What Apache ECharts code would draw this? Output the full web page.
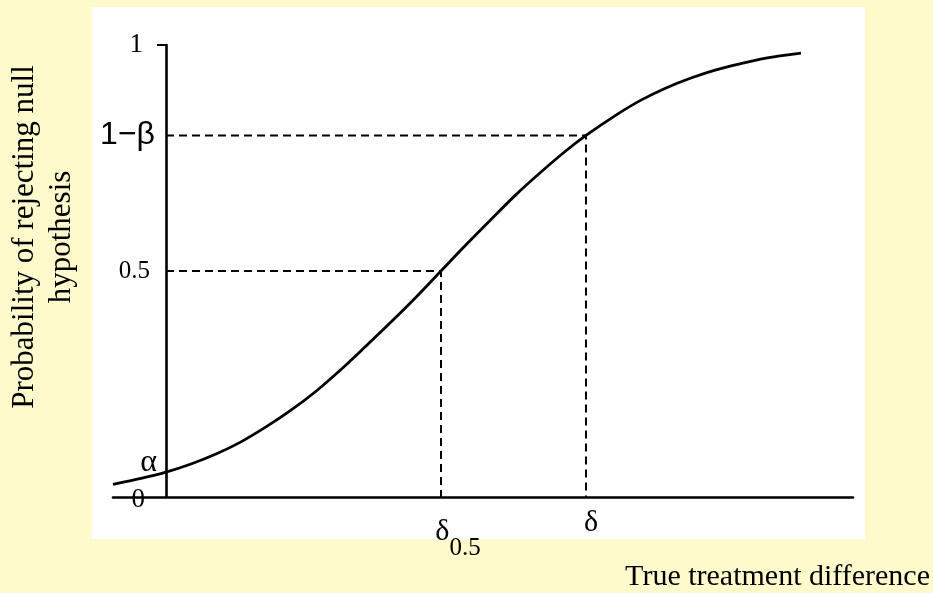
<!DOCTYPE html>
<html>
<head>
<meta charset="utf-8">
<script src="https://cdn.jsdelivr.net/npm/echarts@6/dist/echarts.min.js"></script>
<style>
html,body{margin:0;padding:0;background:#FFFACC;}
#c{width:933px;height:593px;}
</style>
</head>
<body>
<div id="c"></div>
<script>
// Power curve (x in arbitrary units of true treatment difference, y = probability)
var curveX = [-0.53, -0.25, 0, 0.25, 0.5, 0.75, 1, 1.25, 1.5, 1.75, 2, 2.25, 2.5, 2.75, 3, 3.25, 3.5, 3.75, 4, 4.2, 4.5, 4.75, 5, 5.25, 5.5, 5.75, 6, 6.35];
var curveY = [0.028, 0.041, 0.055, 0.073, 0.095, 0.122, 0.155, 0.192, 0.234, 0.282, 0.334, 0.387, 0.442, 0.5, 0.558, 0.614, 0.669, 0.719, 0.766, 0.8, 0.845, 0.878, 0.905, 0.927, 0.945, 0.959, 0.971, 0.982];
// Reference points
var deltaHalf = 2.75, deltaHalfY = 0.5;
var delta = 4.2, powerAtDelta = 0.8;
var alphaVal = 0.055;
// Tick labels
var yTickValues = [0, alphaVal, 0.5, powerAtDelta, 1];
var yTickLabels = ['0', 'α', '0.5', '1−β', '1'];
var xTickValues = [deltaHalf, delta];
var xTickLabels = ['δ0.5', 'δ'];
var xMin = -0.53, xMax = 6.87;

var curve = curveX.map(function (x, i) { return [x, curveY[i]]; });

var chart = echarts.init(document.getElementById('c'), null, {renderer: 'canvas'});
var serif = '"Liberation Serif", "Times New Roman", serif';
var sans = '"Liberation Sans", Arial, sans-serif';
var dash = {color: '#000', width: 2, type: [8, 5]};

chart.setOption({
  backgroundColor: '#FFFACC',
  animation: false,
  graphic: [
    {type: 'rect', z: -10, shape: {x: 92, y: 7, width: 773, height: 532}, style: {fill: '#ffffff'}, silent: true},
    {type: 'text', x: 43, y: 237, rotation: Math.PI / 2,
      style: {text: 'Probability of rejecting null\nhypothesis', font: '31px ' + serif, fill: '#000',
        textAlign: 'center', textVerticalAlign: 'middle', lineHeight: 37}},
    {type: 'text', x: 930, y: 577,
      style: {text: 'True treatment difference', font: '30px ' + serif, fill: '#000',
        textAlign: 'right', textVerticalAlign: 'middle'}}
  ],
  grid: {left: 113, right: 80, top: 45, bottom: 96, containLabel: false},
  xAxis: {
    type: 'value', min: xMin, max: xMax,
    axisLine: {onZero: false, lineStyle: {color: '#000', width: 2.6}},
    axisTick: {show: false},
    splitLine: {show: false},
    axisLabel: {
      customValues: xTickValues, margin: 11, color: '#000',
      formatter: function (v) {
        var i = xTickValues.indexOf(v);
        if (i === 0) return '{d5|δ}{s|0.5}';
        return '{d|' + xTickLabels[i] + '}';
      },
      rich: {
        d: {fontFamily: serif, fontSize: 30, color: '#000', padding: [0, 0, 0, 10]},
        d5: {fontFamily: serif, fontSize: 30, color: '#000', verticalAlign: 'top', padding: [9, 0, 0, 34]},
        s: {fontFamily: serif, fontSize: 25, color: '#000', verticalAlign: 'top', padding: [28, 0, 0, 0]}
      }
    }
  },
  yAxis: {
    type: 'value', min: 0, max: 1,
    axisLine: {show: true, onZero: true, lineStyle: {color: '#000', width: 2.6}},
    axisTick: {show: true, customValues: [1], length: 9, lineStyle: {color: '#000', width: 2}},
    splitLine: {show: false},
    axisLabel: {
      customValues: yTickValues, margin: -45, color: '#000',
      formatter: function (v) {
        var i = yTickValues.indexOf(v);
        var keys = ['zero', 'alpha', 'half', 'beta', 'one'];
        return '{' + keys[i] + '|' + yTickLabels[i] + '}';
      },
      rich: {
        zero: {fontFamily: serif, fontSize: 27, color: '#000', padding: [6, 13, 0, 0]},
        alpha: {fontFamily: serif, fontSize: 32, color: '#000', padding: [0, 1, 20, 0]},
        half: {fontFamily: serif, fontSize: 25, color: '#000', padding: [0, 8, 0, 0]},
        beta: {fontFamily: sans, fontSize: 32, color: '#000', padding: [0, 3, 0, 0]},
        one: {fontFamily: serif, fontSize: 27, color: '#000', padding: [0, 15, 0, 0]}
      }
    }
  },
  series: [
    {type: 'line', data: curve, smooth: 0.3, showSymbol: false, lineStyle: {color: '#000', width: 2.8}, z: 5},
    {type: 'line', data: [[0, deltaHalfY], [deltaHalf, deltaHalfY], [deltaHalf, 0]], showSymbol: false, lineStyle: dash, z: 3},
    {type: 'line', data: [[0, powerAtDelta], [delta, powerAtDelta], [delta, 0]], showSymbol: false, lineStyle: dash, z: 3}
  ]
});
</script>
</body>
</html>
